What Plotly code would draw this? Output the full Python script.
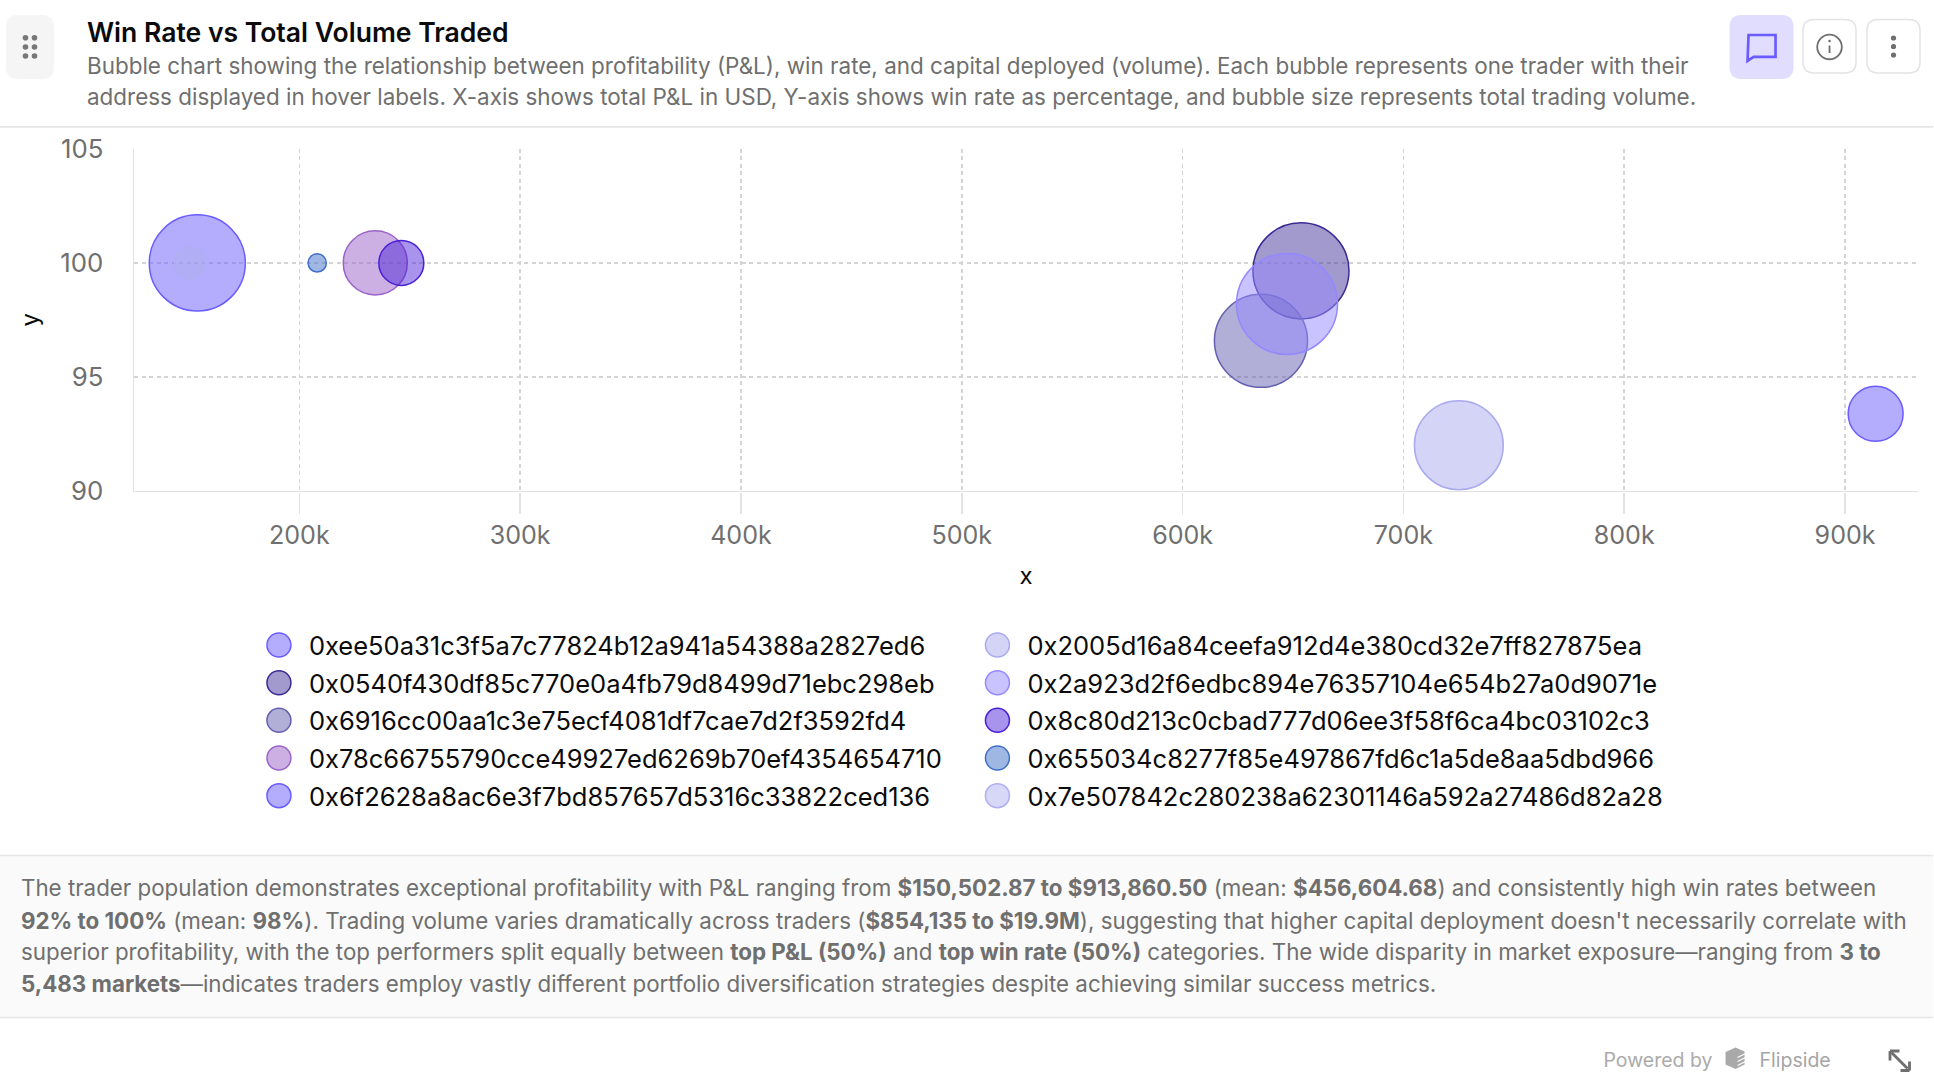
import plotly.graph_objects as go

traders = ["0xee50a31c3f5a7c77824b12a941a54388a2827ed6", "0x0540f430df85c770e0a4fb79d8499d71ebc298eb",
           "0x6916cc00aa1c3e75ecf4081df7cae7d2f3592fd4", "0x78c66755790cce49927ed6269b70ef4354654710",
           "0x6f2628a8ac6e3f7bd857657d5316c33822ced136", "0x2005d16a84ceefa912d4e380cd32e7ff827875ea",
           "0x2a923d2f6edbc894e76357104e654b27a0d9071e", "0x8c80d213c0cbad777d06ee3f58f6ca4bc03102c3",
           "0x655034c8277f85e497867fd6c1a5de8aa5dbd966", "0x7e507842c280238a62301146a592a27486d82a28"]
pnl = [913860.50, 653600, 635500, 234400, 153800, 725100, 647300, 246200, 208100, 150502.87]
win_rate = [93.38, 99.65, 96.58, 100, 100, 92.0, 98.2, 100, 100, 100]
volume = [5.9e6, 18.0e6, 16.9e6, 8.0e6, 18.0e6, 15.4e6, 19.9e6, 3.95e6, 0.65e6, 1.9e6]
line_colors = ["#6a5cff", "#3c2a96", "#6460b0", "#9b62c8", "#6a5cff", "#aaaaee", "#9488ff", "#4a1fd8", "#4070c8", "#b0b0f0"]
fill_colors = ["rgba(106,90,250,.5)", "rgba(60,42,150,.48)", "rgba(100,96,176,.5)", "rgba(155,98,200,.5)",
               "rgba(106,90,250,.5)", "rgba(170,170,238,.5)", "rgba(148,136,255,.5)", "rgba(74,31,216,.48)",
               "rgba(64,112,200,.5)", "rgba(176,176,240,.5)"]
legend_ranks = [1, 3, 5, 7, 9, 2, 4, 6, 8, 10]
x_ticks = [200000, 300000, 400000, 500000, 600000, 700000, 800000, 900000]
x_labels = ["200k", "300k", "400k", "500k", "600k", "700k", "800k", "900k"]
y_ticks = [90, 95, 100, 105]

W, H, S = 1934, 1088, 1.5
FONT = "Inter"
GRAY = "#6f6f6f"
px = lambda v: v / W
py = lambda v: 1 - v / H

fig = go.Figure()
for name, x, y, v, lc, fc, rank in zip(traders, pnl, win_rate, volume, line_colors, fill_colors, legend_ranks):
    fig.add_trace(go.Scatter(x=[x], y=[y], mode="markers", name=name, legendrank=rank,
                             marker=dict(size=[v], sizemode="area", sizeref=8777, color=fc, opacity=1,
                                         line=dict(color=lc, width=1))))

def text(x, y, s, size=14, color=GRAY, weight=None, xanchor="left"):
    fig.add_annotation(xref="paper", yref="paper", x=px(x), y=py(y), text=s, showarrow=False, xanchor=xanchor,
                       yanchor="middle", align="left", xshift=0, borderpad=0,
                       font=dict(family=FONT, size=size, color=color, weight=weight))

text(86, 32, "Win Rate vs Total Volume Traded", 17.7, "#0b0b0b", 600)
text(86, 65.5, "Bubble chart showing the relationship between profitability (P&L), win rate, and capital deployed (volume). Each bubble represents one trader with their", 14.96)
text(86, 98, "address displayed in hover labels. X-axis shows total P&L in USD, Y-axis shows win rate as percentage, and bubble size represents total trading volume.", 14.96)
text(20, 889, "The trader population demonstrates exceptional profitability with P&L ranging from <b>$150,502.87 to $913,860.50</b> (mean: <b>$456,604.68</b>) and consistently high win rates between", 14.9)
text(20, 921, "<b>92% to 100%</b> (mean: <b>98%</b>). Trading volume varies dramatically across traders (<b>$854,135 to $19.9M</b>), suggesting that higher capital deployment doesn't necessarily correlate with", 14.9)
text(20, 953, "superior profitability, with the top performers split equally between <b>top P&L (50%)</b> and <b>top win rate (50%)</b> categories. The wide disparity in market exposure—ranging from <b>3 to</b>", 14.9)
text(20, 985, "<b>5,483 markets</b>—indicates traders employ vastly different portfolio diversification strategies despite achieving similar success metrics.", 14.9)
text(1603, 1059.5, "Powered by", 13, "#ababab")
text(1759, 1059.5, "Flipside", 13, "#a5a5a5")

def rrect(x0, y0, x1, y1, r):
    X, Y = px, py
    return (f"M{X(x0+r)},{Y(y0)} L{X(x1-r)},{Y(y0)} Q{X(x1)},{Y(y0)} {X(x1)},{Y(y0+r)} L{X(x1)},{Y(y1-r)} "
            f"Q{X(x1)},{Y(y1)} {X(x1-r)},{Y(y1)} L{X(x0+r)},{Y(y1)} Q{X(x0)},{Y(y1)} {X(x0)},{Y(y1-r)} "
            f"L{X(x0)},{Y(y0+r)} Q{X(x0)},{Y(y0)} {X(x0+r)},{Y(y0)} Z")

def shape_path(d, fill="rgba(0,0,0,0)", line=None, width=1):
    fig.add_shape(type="path", xref="paper", yref="paper", path=d, fillcolor=fill, layer="above",
                  line=dict(color=line or "rgba(0,0,0,0)", width=width))

def dot(cx, cy, r, fill=None, line=None, width=1):
    fig.add_shape(type="circle", xref="paper", yref="paper", x0=px(cx-r), x1=px(cx+r), y0=py(cy+r), y1=py(cy-r),
                  fillcolor=fill or "rgba(0,0,0,0)", line=dict(color=line or "rgba(0,0,0,0)", width=width), layer="above")

def seg(x0, y0, x1, y1, color, width=1):
    fig.add_shape(type="line", xref="paper", yref="paper", x0=px(x0), x1=px(x1), y0=py(y0), y1=py(y1),
                  line=dict(color=color, width=width), layer="above")

# panels and dividers
fig.add_shape(type="rect", xref="paper", yref="paper", x0=0, x1=1, y0=py(1018), y1=py(856), fillcolor="#fafafa",
              line=dict(width=0), layer="below")
seg(0, 127, W, 127, "#e6e6e6", 1.2)
seg(0, 856, W, 856, "#e6e6e6", 1)
seg(0, 1018, W, 1018, "#e6e6e6", 1)

# drag handle
shape_path(rrect(6, 15, 54, 79, 12), "#f5f5f5")
for cx in (25.5, 34.5):
    for cy in (37.7, 47, 56):
        dot(cx, cy, 2.8, "#777777")
# comment button
shape_path(rrect(1730, 15, 1794, 79, 12), "#e1ddff")
shape_path(f"M{px(1749)},{py(35)} L{px(1776)},{py(35)} L{px(1776)},{py(57)} L{px(1754)},{py(57)} "
           f"L{px(1748)},{py(61)} Z", line="#6a5cff", width=1.8)
# info button
shape_path(rrect(1803.5, 19.5, 1856.5, 73, 11), "#ffffff", "#e4e4e4", 1)
dot(1830, 47, 12.3, None, "#6f6f6f", 1.2)
dot(1830, 41, 1.3, "#6f6f6f")
seg(1830, 45.5, 1830, 53, "#6f6f6f", 1.2)
# menu button
shape_path(rrect(1867.5, 19.5, 1920.5, 73, 11), "#ffffff", "#e4e4e4", 1)
for cy in (38, 46.5, 55):
    dot(1894, cy, 2.6, "#6f6f6f")
# Flipside logo
shape_path(f"M{px(1736)},{py(1048)} L{px(1745)},{py(1052)} L{px(1745)},{py(1065)} L{px(1736)},{py(1069.5)} "
           f"L{px(1726)},{py(1065)} L{px(1726)},{py(1052.5)} Z", "#a9a9a9")
for y0 in (1056, 1060, 1064):
    seg(1738, y0 + 2, 1746, y0 - 2, "#ffffff", 0.8)
# expand icon
seg(1892, 1053, 1908, 1069, "#6f6f6f", 1.9)
seg(1890.5, 1051.5, 1890.5, 1061, "#6f6f6f", 1.9)
seg(1890.5, 1051.5, 1900, 1051.5, "#6f6f6f", 1.9)
seg(1910, 1071, 1910, 1062, "#6f6f6f", 1.9)
seg(1910, 1071, 1901, 1071, "#6f6f6f", 1.9)

fig.update_layout(
    width=W / S, height=H / S, autosize=False, margin=dict(l=0, r=0, t=0, b=0, autoexpand=False),
    paper_bgcolor="#ffffff", plot_bgcolor="#ffffff", font=dict(family=FONT, size=17, color=GRAY),
    showlegend=True,
    legend=dict(orientation="h", x=px(249), y=py(619), xanchor="left", yanchor="top", entrywidth=434,
                entrywidthmode="pixels", itemclick=False, font=dict(family=FONT, size=17, color="#0b0b0b"),
                bgcolor="rgba(0,0,0,0)", traceorder="normal"),
    xaxis=dict(domain=[px(134.4), px(1918.4)], range=[125300, 933000], tickvals=x_ticks, ticktext=x_labels,
               showgrid=True, gridcolor="#d4d4d4", griddash="2.5px,2.5px", gridwidth=1, zeroline=False,
               showline=True, linecolor="#e2e2e2", linewidth=1.4, ticks="outside", ticklen=14, tickcolor="#e2e2e2",
               tickwidth=1, tickfont=dict(family=FONT, size=16.7, color=GRAY),
               title=dict(text="x", font=dict(family=FONT, size=16, color="#0b0b0b"), standoff=12)),
    yaxis=dict(domain=[py(491), py(149)], range=[90, 105], tickvals=y_ticks, showgrid=True, gridcolor="#d4d4d4",
               griddash="2.5px,2.5px", gridwidth=1, zeroline=False, showline=True, linecolor="#e2e2e2", linewidth=1.4,
               ticks="", ticklabelstandoff=16, tickfont=dict(family=FONT, size=17.2, color=GRAY),
               title=dict(text="y", font=dict(family=FONT, size=16, color="#0b0b0b"), standoff=10)),
)

post = ("document.documentElement.style.overflow='hidden';document.body.style.margin='0';"
        "var g=document.getElementById('{plot_id}');g.style.transform='scale(1.5)';g.style.transformOrigin='0 0';")
fig.write_html("out.html", post_script=post, config={"displayModeBar": False})
